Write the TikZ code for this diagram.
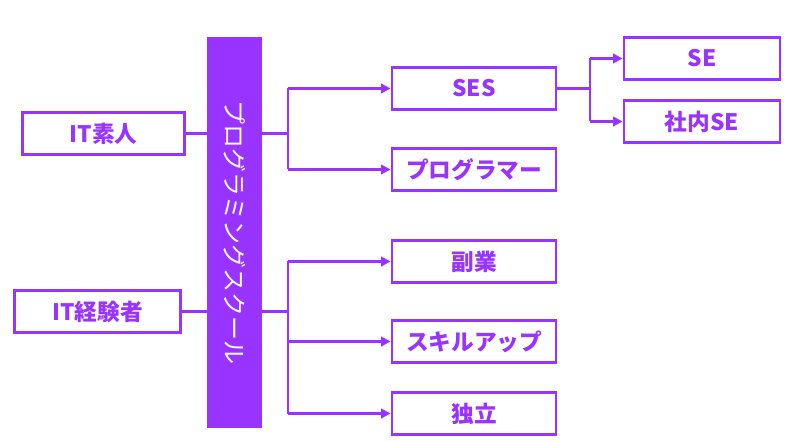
\documentclass[tikz,border=0pt]{standalone}
\usepackage{fontspec}
\newfontfamily\jp{Noto Sans CJK JP}
\usetikzlibrary{arrows.meta}
\definecolor{pp}{HTML}{9933FF}
\begin{document}
\begin{tikzpicture}[x=0.75pt,y=-0.75pt,
  bx/.style={draw=pp,line width=2.2pt,fill=white,minimum width=123pt,minimum height=32pt,inner sep=0pt,font=\jp\bfseries\fontsize{17}{17}\selectfont,text=pp},
  ln/.style={draw=pp,line width=2.2pt},
  ar/.style={ln,-{Triangle[length=7pt,width=7pt]}}]
\useasboundingbox (0,0) rectangle (800,442);
\node[bx,minimum width=122pt] (a) at (103.5,133.5) {IT素人};
\node[bx,minimum width=124pt] (b) at (97.5,311.5) {IT経験者};
\node[fill=pp,minimum width=41pt,minimum height=293pt,inner sep=0pt] (bar) at (234.5,232.5) {};
\node[rotate=-90,text=white,font=\jp\fontsize{18}{18}\selectfont] at (bar.center) {プログラミングスクール};
\node[bx] (ses) at (474,88.5) {SES};
\node[bx] (pg) at (474,169.5) {プログラマー};
\node[bx] (fk) at (474,261.5) {副業};
\node[bx] (sk) at (474,341.5) {スキルアップ};
\node[bx] (dk) at (474,413.5) {独立};
\node[bx,minimum width=117pt] (se) at (702,58.5) {SE};
\node[bx,minimum width=117pt] (sn) at (702,121.5) {社内SE};
\coordinate (j1) at (288,133.5);
\coordinate (j2) at (288,311.5);
\coordinate (j3) at (590,88.5);
\draw[ln] (a.east) -- (bar.west|-a.east);
\draw[ln] (b.east) -- (bar.west|-b.east);
\draw[ln] (bar.east|-j1) -- (j1);
\draw[ln] (bar.east|-j2) -- (j2);
\draw[ar] (j1|-ses.west) -- (ses.west);
\draw[ln] (j1|-ses.west) -- (j1|-pg.west);
\draw[ar] (j1|-pg.west) -- (pg.west);
\draw[ar] (j2|-fk.west) -- (fk.west);
\draw[ln] (j2|-fk.west) -- (j2|-dk.west);
\draw[ar] (j2|-sk.west) -- (sk.west);
\draw[ar] (j2|-dk.west) -- (dk.west);
\draw[ln] (ses.east) -- (j3);
\draw[ln] (j3|-se.west) -- (j3|-sn.west);
\draw[ar] (j3|-se.west) -- (se.west);
\draw[ar] (j3|-sn.west) -- (sn.west);
\end{tikzpicture}
\end{document}
